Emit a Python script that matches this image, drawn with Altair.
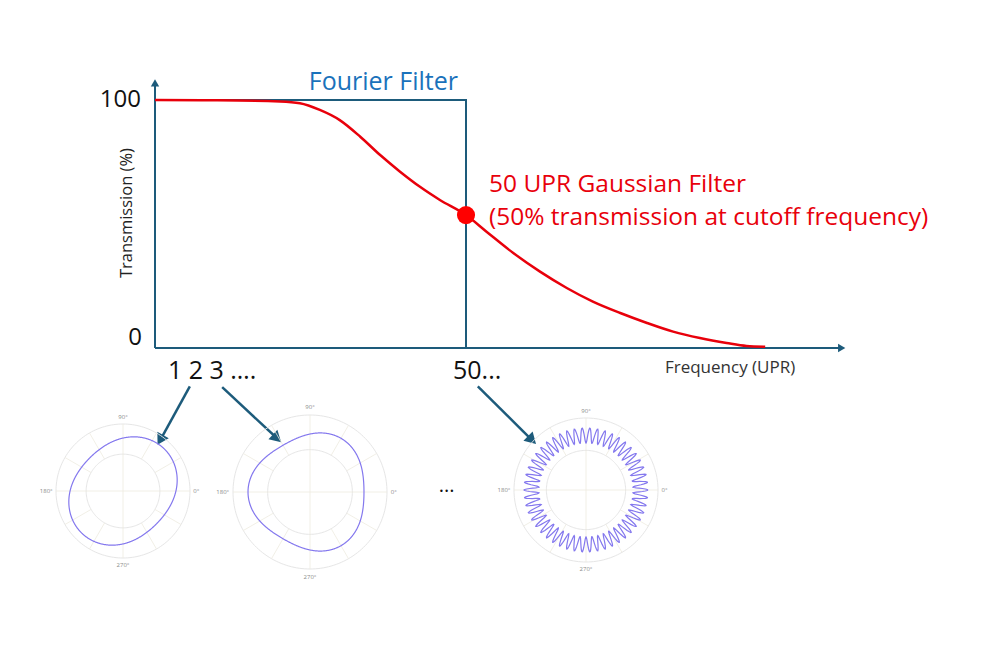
import altair as alt
import pandas as pd
import numpy as np

W, H = 984, 651
FONT = "Open Sans"
TEAL = "#1d5b7b"
RED = "#e8000b"
BLUE_TXT = "#1a72bb"
PURPLE = "#8478ee"
GRID = "#e6e6e6"

# ---- Gaussian filter curve (frequency UPR, transmission %)
gauss_freq = [0, 10, 20.1, 23.3, 26.5, 29.7, 33.0, 36.2, 39.4, 42.6, 45.8, 50.0,
              53.3, 57.6, 61.9, 66.2, 70.4, 74.8, 79.1, 83.3, 87.6, 91.9, 95.1, 98.1]
gauss_trans = [100, 99.9, 99.4, 98.7, 96.0, 91.9, 85.2, 77.8, 71.1, 65.0, 59.7, 53.6,
               46.9, 38.3, 30.8, 24.2, 18.7, 14.1, 10.1, 6.6, 4.0, 2.0, 0.8, 0.5]

# ---- ideal Fourier (brick-wall) filter
fourier_freq = [0, 50, 50]
fourier_trans = [100, 100, 0]

# ---- cutoff point
cutoff_freq = [50]
cutoff_trans = [53.6]

# ---- axis extents (frequency / transmission units)
x_axis_end = 110.0
y_axis_end = 106.0

# ---- arrows (from labels to polar plots), in frequency / transmission units
arrow_f1 = [5.6, 10.8, 51.9]
arrow_t1 = [-15.5, -15.8, -15.5]
arrow_f2 = [1.0, 19.4, 60.4]
arrow_t2 = [-36.4, -35.9, -36.6]
arrow_angle = [209, 133, 135]

# ---- polar insets: harmonic shown, base radius, amplitude, phase (deg)
inset_order = [2, 3, 50]
inset_base = [0.79, 0.753, 0.757]
inset_amp = [0.09, 0.052, 0.104]
inset_phase = [45, 60, 0]
inset_cx = [123, 310, 586]   # page centre of each inset
inset_cy = [491, 492, 490]
inset_R = [67, 77, 72]
angle_labels = ["0°", "90°", "180°", "270°"]

xs = alt.Scale(domain=[0, 50], range=[147, 458], nice=False, zero=False)
ys = alt.Scale(domain=[0, 100], range=[340, 92], nice=False, zero=False)


def X(field):
    return alt.X(f"{field}:Q", scale=xs, axis=None)


def Y(field):
    return alt.Y(f"{field}:Q", scale=ys, axis=None)


axes_df = pd.DataFrame({"f": [0, 0], "t": [0, 0], "f2": [x_axis_end, 0], "t2": [0, y_axis_end]})
axes = alt.Chart(axes_df).mark_rule(color=TEAL, strokeWidth=2).encode(
    x=X("f"), y=Y("t"), x2="f2:Q", y2="t2:Q")

heads_df = pd.DataFrame({"f": [x_axis_end + 0.4, 0], "t": [0, y_axis_end + 0.9],
                         "shape": ["triangle-right", "triangle-up"]})
heads = alt.Chart(heads_df).mark_point(filled=True, color=TEAL, opacity=1, size=70).encode(
    x=X("f"), y=Y("t"), shape=alt.Shape("shape:N", scale=None))

four_df = pd.DataFrame({"f": fourier_freq, "t": fourier_trans, "i": range(3)})
fourier = alt.Chart(four_df).mark_line(color=TEAL, strokeWidth=2).encode(
    x=X("f"), y=Y("t"), order="i:Q")

gauss_df = pd.DataFrame({"f": gauss_freq, "t": gauss_trans})
gauss = alt.Chart(gauss_df).mark_line(color=RED, strokeWidth=2.5, interpolate="monotone").encode(
    x=X("f"), y=Y("t"))

dot = alt.Chart(pd.DataFrame({"f": cutoff_freq, "t": cutoff_trans})).mark_circle(
    color="#ff0000", opacity=1, size=330).encode(x=X("f"), y=Y("t"))

arr_df = pd.DataFrame({"f": arrow_f1, "t": arrow_t1, "f2": arrow_f2, "t2": arrow_t2, "a": arrow_angle})
arrow_lines = alt.Chart(arr_df).mark_rule(color=TEAL, strokeWidth=2.5).encode(
    x=X("f"), y=Y("t"), x2="f2:Q", y2="t2:Q")
arrow_heads = alt.Chart(arr_df).mark_point(shape="triangle", filled=True, color=TEAL,
                                            opacity=1, size=170).encode(
    x=X("f2"), y=Y("t2"), angle=alt.Angle("a:Q", scale=None))


def txt(text, f, t, size, color, align="left", dx=0, dy=0, angle=0):
    return alt.Chart(pd.DataFrame({"f": [f], "t": [t], "s": [text]})).mark_text(
        font=FONT, fontSize=size, color=color, align=align, baseline="middle",
        dx=dx, dy=dy, angle=angle).encode(x=X("f"), y=Y("t"), text="s:N")


texts = [
    txt("100", 0, 100, 24, "#111111", align="right", dx=-14),
    txt("0", 0, 0, 24, "#111111", align="right", dx=-13, dy=-10),
    txt("Fourier Filter", 50, 100, 25, BLUE_TXT, align="right", dx=-8, dy=-18),
    txt("50 UPR Gaussian Filter", 50, 53.6, 24.5, RED, dx=23, dy=-30),
    txt("(50% transmission at cutoff frequency)", 50, 53.6, 24.5, RED, dx=23, dy=3),
    txt("1 2 3 ….", 0, 0, 25, "#111111", dx=13, dy=23),
    txt("50...", 50, 0, 25, "#111111", dx=-13, dy=23),
    txt("Frequency  (UPR)", x_axis_end, 0, 17, "#333333", align="right", dx=-44, dy=20),
    txt("Transmission (%)", -4.5, 54.4, 16.5, "#222222", align="center", angle=270),
    txt("...", 46.9, -55.5, 20, "#111111", align="center"),
]

main = alt.layer(fourier, axes, heads, gauss, dot, arrow_lines, arrow_heads, *texts)

# ---- polar insets
insets = []
theta = np.linspace(0, 2 * np.pi, 721)
for k in range(3):
    cx, cy, R = inset_cx[k] - 8, inset_cy[k] - 8, inset_R[k]
    sx = alt.Scale(domain=[-1, 1], range=[cx - R, cx + R], nice=False, zero=False)
    sy = alt.Scale(domain=[-1, 1], range=[cy + R, cy - R], nice=False, zero=False)
    px = lambda: alt.X("x:Q", scale=sx, axis=None)
    py = lambda: alt.Y("y:Q", scale=sy, axis=None)

    circ = []
    for j, rr in enumerate([1.0, 0.55]):
        tt = np.linspace(0, 2 * np.pi, 181)
        circ.append(pd.DataFrame({"x": rr * np.cos(tt), "y": rr * np.sin(tt), "i": range(181), "c": j}))
    circ_df = pd.concat(circ)
    grid = alt.Chart(circ_df).mark_line(color=GRID, strokeWidth=1).encode(
        x=px(), y=py(), detail="c:N", order="i:Q")

    sp = []
    for a in range(0, 360, 30):
        r0 = 0.0 if a % 90 == 0 else 0.55
        ar = np.radians(a)
        sp.append({"x": r0 * np.cos(ar), "y": r0 * np.sin(ar), "x2": np.cos(ar), "y2": np.sin(ar)})
    sp_df = pd.DataFrame(sp)
    spokes = alt.Chart(sp_df).mark_rule(color="#eeebdf", strokeWidth=0.8).encode(
        x=px(), y=py(), x2="x2:Q", y2="y2:Q")

    n, b, amp, ph = inset_order[k], inset_base[k], inset_amp[k], np.radians(inset_phase[k])
    r = b + amp * np.cos(n * (theta - ph))
    cur_df = pd.DataFrame({"x": r * np.cos(theta), "y": r * np.sin(theta), "i": range(len(theta))})
    curve = alt.Chart(cur_df).mark_line(color=PURPLE, strokeWidth=1.2).encode(
        x=px(), y=py(), order="i:Q")

    lab_df = pd.DataFrame({"x": [1.05, 0, -1.05, 0], "y": [0, 1.06, 0, -1.06], "s": angle_labels,
                           "al": ["left", "center", "right", "center"],
                           "bl": ["middle", "bottom", "middle", "top"]})
    labs = []
    for _, row in lab_df.iterrows():
        labs.append(alt.Chart(pd.DataFrame([row])).mark_text(
            font=FONT, fontSize=6, color="#8a8a8a", align=row["al"], baseline=row["bl"]).encode(
            x=px(), y=py(), text="s:N"))

    insets.append(alt.layer(grid, spokes, curve, *labs))

chart = alt.layer(main, *insets).resolve_scale(x="independent", y="independent").properties(
    width=W, height=H, padding=0, autosize=alt.AutoSizeParams(type="none"),
    background="white").configure_view(stroke=None)

chart.save("out.html", embed_options={"renderer": "svg", "actions": False})
